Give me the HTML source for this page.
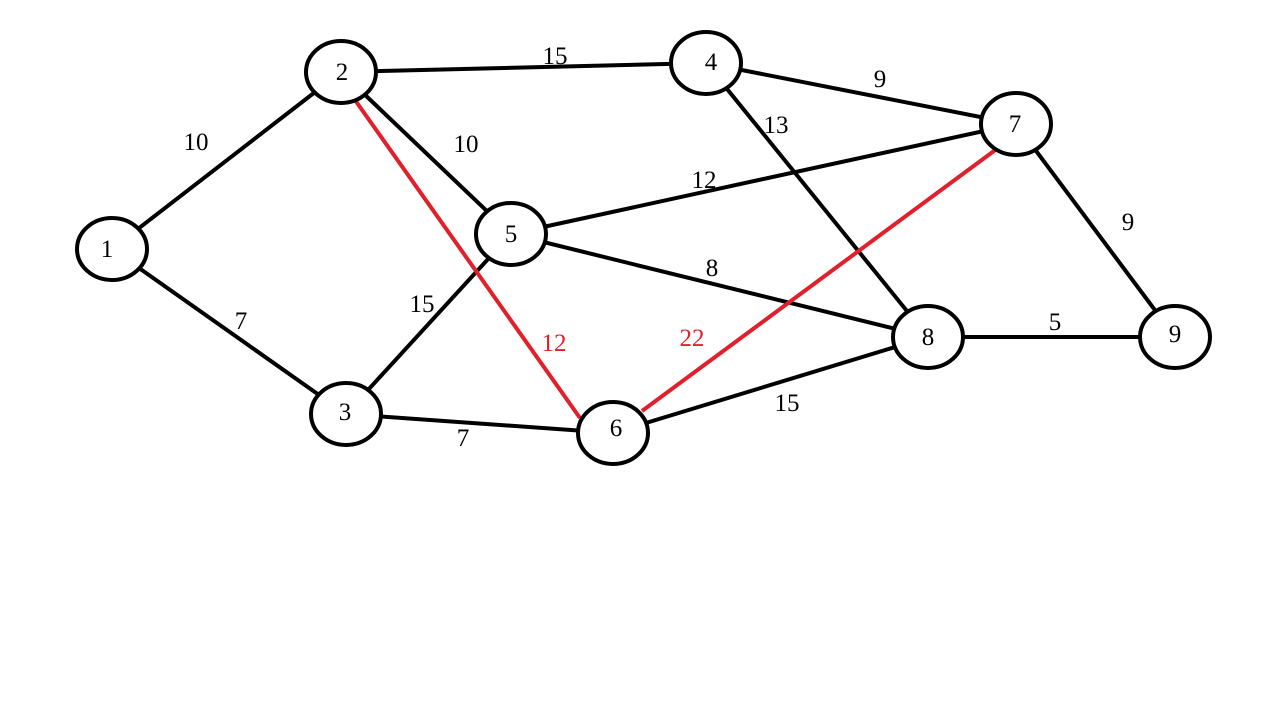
<!DOCTYPE html>
<html><head><meta charset="utf-8"><style>html,body{margin:0;padding:0;background:#fff}svg{display:block}</style></head>
<body>
<svg width="1266" height="712" viewBox="0 0 1266 712" xmlns="http://www.w3.org/2000/svg">
<g stroke="#000" stroke-width="4" fill="none">
<line x1="112" y1="249" x2="341" y2="72"/>
<line x1="112" y1="249" x2="346" y2="414"/>
<line x1="341" y1="72" x2="706" y2="63"/>
<line x1="341" y1="72" x2="511" y2="234"/>
<line x1="346" y1="414" x2="511" y2="234"/>
<line x1="346" y1="414" x2="613" y2="433"/>
<line x1="706" y1="63" x2="1016" y2="124"/>
<line x1="706" y1="63" x2="928" y2="337"/>
<line x1="511" y1="234" x2="1016" y2="124"/>
<line x1="511" y1="234" x2="928" y2="337"/>
<line x1="613" y1="433" x2="928" y2="337"/>
<line x1="1016" y1="124" x2="1175" y2="337"/>
<line x1="928" y1="337" x2="1175" y2="337"/>
</g>
<g stroke="#e0202a" stroke-width="4">
<line x1="355" y1="100" x2="580" y2="418"/>
<line x1="642" y1="411" x2="998" y2="148"/>
</g>
<g stroke="#000" stroke-width="4" fill="#fff">
<ellipse cx="112" cy="249" rx="35" ry="31"/>
<ellipse cx="341" cy="72" rx="35" ry="31"/>
<ellipse cx="346" cy="414" rx="35" ry="31"/>
<ellipse cx="706" cy="63" rx="35" ry="31"/>
<ellipse cx="511" cy="234" rx="35" ry="31"/>
<ellipse cx="613" cy="433" rx="35" ry="31"/>
<ellipse cx="1016" cy="124" rx="35" ry="31"/>
<ellipse cx="928" cy="337" rx="35" ry="31"/>
<ellipse cx="1175" cy="337" rx="35" ry="31"/>
</g>
<g font-family="Liberation Serif, serif" font-size="25" text-anchor="middle" fill="#000">
<text x="107" y="257">1</text>
<text x="342" y="80">2</text>
<text x="345" y="420">3</text>
<text x="711" y="70">4</text>
<text x="511" y="242">5</text>
<text x="616" y="436">6</text>
<text x="1015" y="132">7</text>
<text x="928" y="345">8</text>
<text x="1175" y="342">9</text>
<text x="196" y="150">10</text>
<text x="241" y="329">7</text>
<text x="555" y="64">15</text>
<text x="466" y="152">10</text>
<text x="422" y="312">15</text>
<text x="463" y="446">7</text>
<text x="880" y="87">9</text>
<text x="776" y="133">13</text>
<text x="704" y="188">12</text>
<text x="712" y="276">8</text>
<text x="787" y="411">15</text>
<text x="1128" y="230">9</text>
<text x="1055" y="330">5</text>
<text x="554" y="351" fill="#e0202a">12</text>
<text x="692" y="346" fill="#e0202a">22</text>
</g>
</svg>
</body></html>
